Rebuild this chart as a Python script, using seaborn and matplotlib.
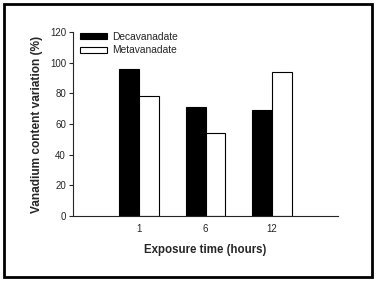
import matplotlib
matplotlib.use("Agg")
import matplotlib.pyplot as plt
import seaborn as sns
import pandas as pd
from matplotlib.patches import Rectangle

times = ["1", "6", "12"]
decavanadate = [96, 71, 69]
metavanadate = [78, 54, 94]
series_names = ["Decavanadate", "Metavanadate"]
y_ticks = [0, 20, 40, 60, 80, 100, 120]

df = pd.DataFrame({
    "time": times * 2,
    "value": decavanadate + metavanadate,
    "series": [series_names[0]] * 3 + [series_names[1]] * 3,
})

sns.set_style("ticks")
plt.rcParams["font.family"] = ["Liberation Sans", "DejaVu Sans"]

fig = plt.figure(figsize=(3.76, 2.81), dpi=100)
ax = fig.add_axes([73/376, 1-216/281, (338-73)/376, (216-32)/281])

sns.barplot(data=df, x="time", y="value", hue="series", order=times,
            hue_order=series_names,
            palette={"Decavanadate": "black", "Metavanadate": "white"},
            edgecolor="black", linewidth=0.8, width=0.6, gap=0, ax=ax,
            errorbar=None, saturation=1)

ax.set_xlim(-1, 3)
ax.set_ylim(0, 120)
ax.set_yticks(y_ticks)
ax.tick_params(axis="y", labelsize=7, length=3, width=0.8, pad=2)
ax.tick_params(axis="x", labelsize=7, length=0, pad=6)
for s in ["top", "right"]:
    ax.spines[s].set_visible(False)
ax.spines["left"].set_linewidth(0.8)
ax.spines["bottom"].set_linewidth(0.8)

ax.set_xlabel("Exposure time (hours)", fontsize=8.3, fontweight="bold", labelpad=7)
ax.set_ylabel("Vanadium content variation (%)", fontsize=8.6, fontweight="bold", labelpad=5)

leg = ax.legend(loc="upper left", bbox_to_anchor=(0.0, 1.04), frameon=False,
                fontsize=7.4, handlelength=2.6, handleheight=0.6, labelspacing=0.35,
                handletextpad=0.5, borderaxespad=0.3)

fig.patches.append(Rectangle((4/376, 4/281), 368/376, 273/281, transform=fig.transFigure,
                             fill=False, edgecolor="black", linewidth=2, figure=fig))

fig.savefig("out.png", dpi=100)
